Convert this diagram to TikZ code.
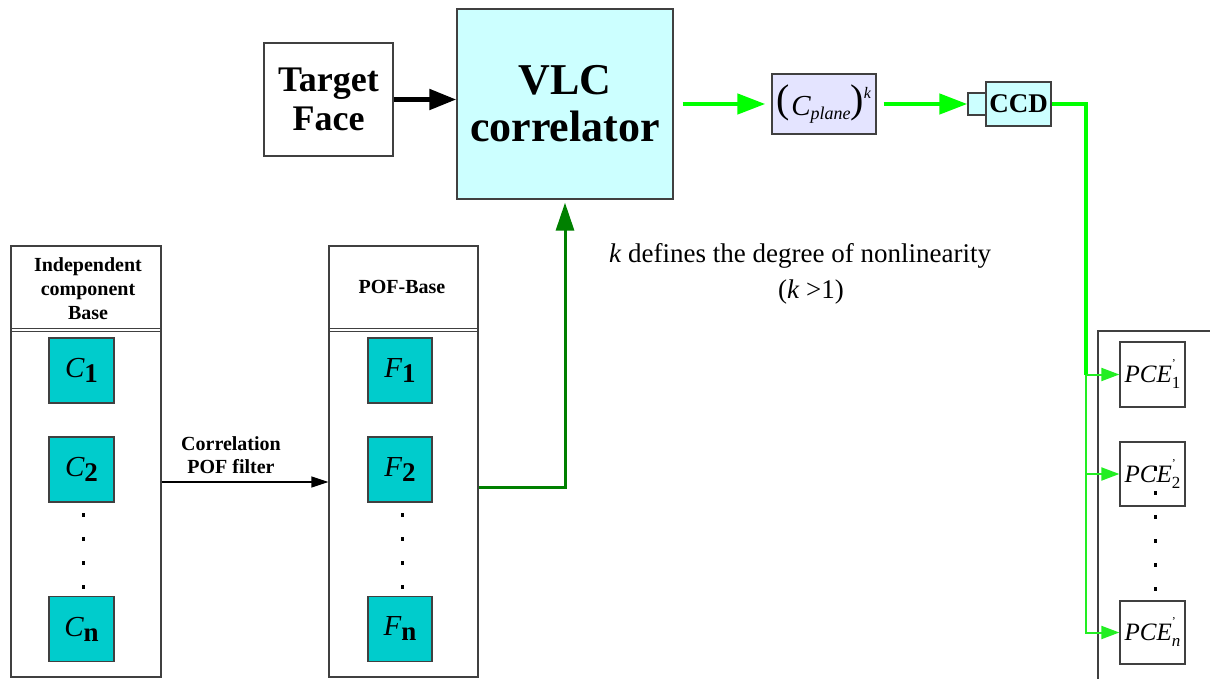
\documentclass[tikz,border=0pt]{standalone}
\usepackage{fontspec}
\setmainfont{Liberation Serif}
\usetikzlibrary{arrows.meta}
\definecolor{teal1}{HTML}{00CCCC}
\definecolor{cyan1}{HTML}{CCFFFF}
\definecolor{lav1}{HTML}{E4E4FF}
\definecolor{bgreen}{HTML}{00FF00}
\definecolor{lgreen}{HTML}{22EE22}
\definecolor{dgreen}{HTML}{008000}
\definecolor{bord}{HTML}{404040}
\newcommand{\fs}[1]{\fontsize{#1}{#1}\selectfont}
\newcommand{\fsb}[2]{\fontsize{#1}{#2}\selectfont}
\begin{document}
\begin{tikzpicture}[x=1pt,y=-1pt,
  box/.style={draw=bord,line width=1.3pt,inner sep=0pt,anchor=center},
  panel/.style={draw=bord,line width=1.1pt,inner sep=0pt,fill=white},
  cbox/.style={box,fill=teal1,minimum width=65pt,minimum height=65pt,font=\fs{29}},
  pcebox/.style={box,fill=white,minimum width=65pt,minimum height=64pt,font=\fs{25}},
  dotsq/.style={fill=black},
  bigarrow/.style={line width=5pt,-{Triangle[length=27pt,width=20pt]}},
  garrow/.style={bgreen,line width=4.5pt,-{Triangle[length=28pt,width=20pt]}},
  thinga/.style={lgreen,line width=2pt,-{Triangle[length=18pt,width=13pt]}},
  hdr/.style={align=center,font=\bfseries\fsb{20}{24},inner sep=0pt}
]
\useasboundingbox (0,0) rectangle (1210,679);
\fill[white] (0,0) rectangle (1210,679);

% top row
\node[box,fill=white,minimum width=129pt,minimum height=113pt,align=center,font=\bfseries\fsb{36}{39}] (tf) at (328.5,99.5) {Target\\Face};
\node[box,fill=cyan1,minimum width=216pt,minimum height=190pt,align=center,font=\bfseries\fsb{44}{47}] (vlc) at (565,104) {VLC\\correlator};
\node[box,fill=lav1,minimum width=104pt,minimum height=60pt] (cp) at (824,104)
  {\raisebox{3pt}{\fs{40}(}\hspace{1pt}{\fs{29}\itshape C}\raisebox{-4pt}{\fs{18}\itshape plane}\raisebox{3pt}{\fs{40})}\raisebox{17pt}{\fs{16}\itshape k}};
\node[box,fill=cyan1,minimum width=18pt,minimum height=22pt] (port) at (977,104) {};
\node[box,fill=cyan1,minimum width=65pt,minimum height=44pt,font=\bfseries\fs{27}] (ccd) at (1018.5,104) {CCD};

\draw[bigarrow] (tf.east) -- (tf.east -| vlc.west);
\draw[garrow,shorten <=9pt,shorten >=6pt] (vlc.east) -- (cp.west);
\draw[garrow,shorten <=7pt] (cp.east) -- (port.west);

% left panel
\node[panel,minimum width=150pt,minimum height=431pt] (lp) at (86,461.5) {};
\draw[bord,line width=1pt] (11,328) -- (161,328) (11,331.5) -- (161,331.5);
\node[hdr] (lph) at (88,289) {Independent\\component\\Base};
\node[cbox] (c1) at (81.5,370.5) {{\itshape C}\raisebox{-5pt}{\bfseries\fs{27}1}};
\node[cbox] (c2) at (81.5,469.5) {{\itshape C}\raisebox{-5pt}{\bfseries\fs{27}2}};
\node[cbox] (cn) at (81.5,629) {{\itshape C}\raisebox{-5pt}{\bfseries\fs{27}n}};
\foreach \y in {513,537,561,585} \fill[dotsq] (81.5,\y) rectangle (85,\y+3.5);

% POF panel
\node[panel,minimum width=149pt,minimum height=431pt] (pp) at (403.5,461.5) {};
\draw[bord,line width=1pt] (329,328) -- (478,328) (329,331.5) -- (478,331.5);
\node[hdr] (pph) at (402,287) {POF-Base};
\node[cbox,minimum width=64pt] (f1) at (400,370.5) {{\itshape F}\raisebox{-5pt}{\bfseries\fs{27}1}};
\node[cbox,minimum width=64pt] (f2) at (400,469.5) {{\itshape F}\raisebox{-5pt}{\bfseries\fs{27}2}};
\node[cbox,minimum width=64pt] (fn) at (400,629) {{\itshape F}\raisebox{-5pt}{\bfseries\fs{27}n}};
\foreach \y in {513,537,561,585} \fill[dotsq] (400.5,\y) rectangle (404,\y+3.5);

\draw[black,line width=1.2pt,-{Triangle[length=17pt,width=11pt]}] ([yshift=-20.5pt]lp.east) -- ([yshift=-20.5pt]pp.west);
\node[hdr,font=\bfseries\fsb{20}{23}] (corr) at (231,455) {Correlation\\POF filter};

\draw[dgreen,line width=3pt,-{Triangle[length=28pt,width=18pt]},shorten >=3pt] ([yshift=-25.5pt]pp.east) -| (vlc.south);

\node[align=center,font=\fsb{27}{36},inner sep=0pt] (note) at (800,274) {\textit{k} defines the degree of nonlinearity\\\hspace*{22pt}(\textit{k} >1)};

% right panel
\draw[bord,line width=1.1pt] (1215,331) -- (1098,331) -- (1098,685);
\node[pcebox,minimum height=65pt] (pce1) at (1152.5,374.5) {\itshape PCE\rlap{\raisebox{15pt}{\upshape\fs{12}'}}\raisebox{-6pt}{\upshape\fs{17}1}};
\node[pcebox] (pce2) at (1152.5,474) {\itshape PCE\rlap{\raisebox{15pt}{\upshape\fs{12}'}}\raisebox{-6pt}{\upshape\fs{17}2}};
\node[pcebox,minimum height=63pt] (pcen) at (1152.5,632.5) {\itshape PCE\rlap{\raisebox{15pt}{\upshape\fs{12}'}}\raisebox{-6pt}{\fs{17}n}};
\foreach \y in {467,491,515,539,563,587} \fill[dotsq] (1153.5,\y) rectangle (1157,\y+3.5);

\coordinate (j) at (1086,374.5);
\draw[bgreen,line width=4.5pt] (ccd.east) -| (j);
\draw[thinga] (j) -- (pce1.west);
\draw[thinga] (j) |- (pce2.west);
\draw[thinga] (j) |- (pcen.west);
\end{tikzpicture}
\end{document}
